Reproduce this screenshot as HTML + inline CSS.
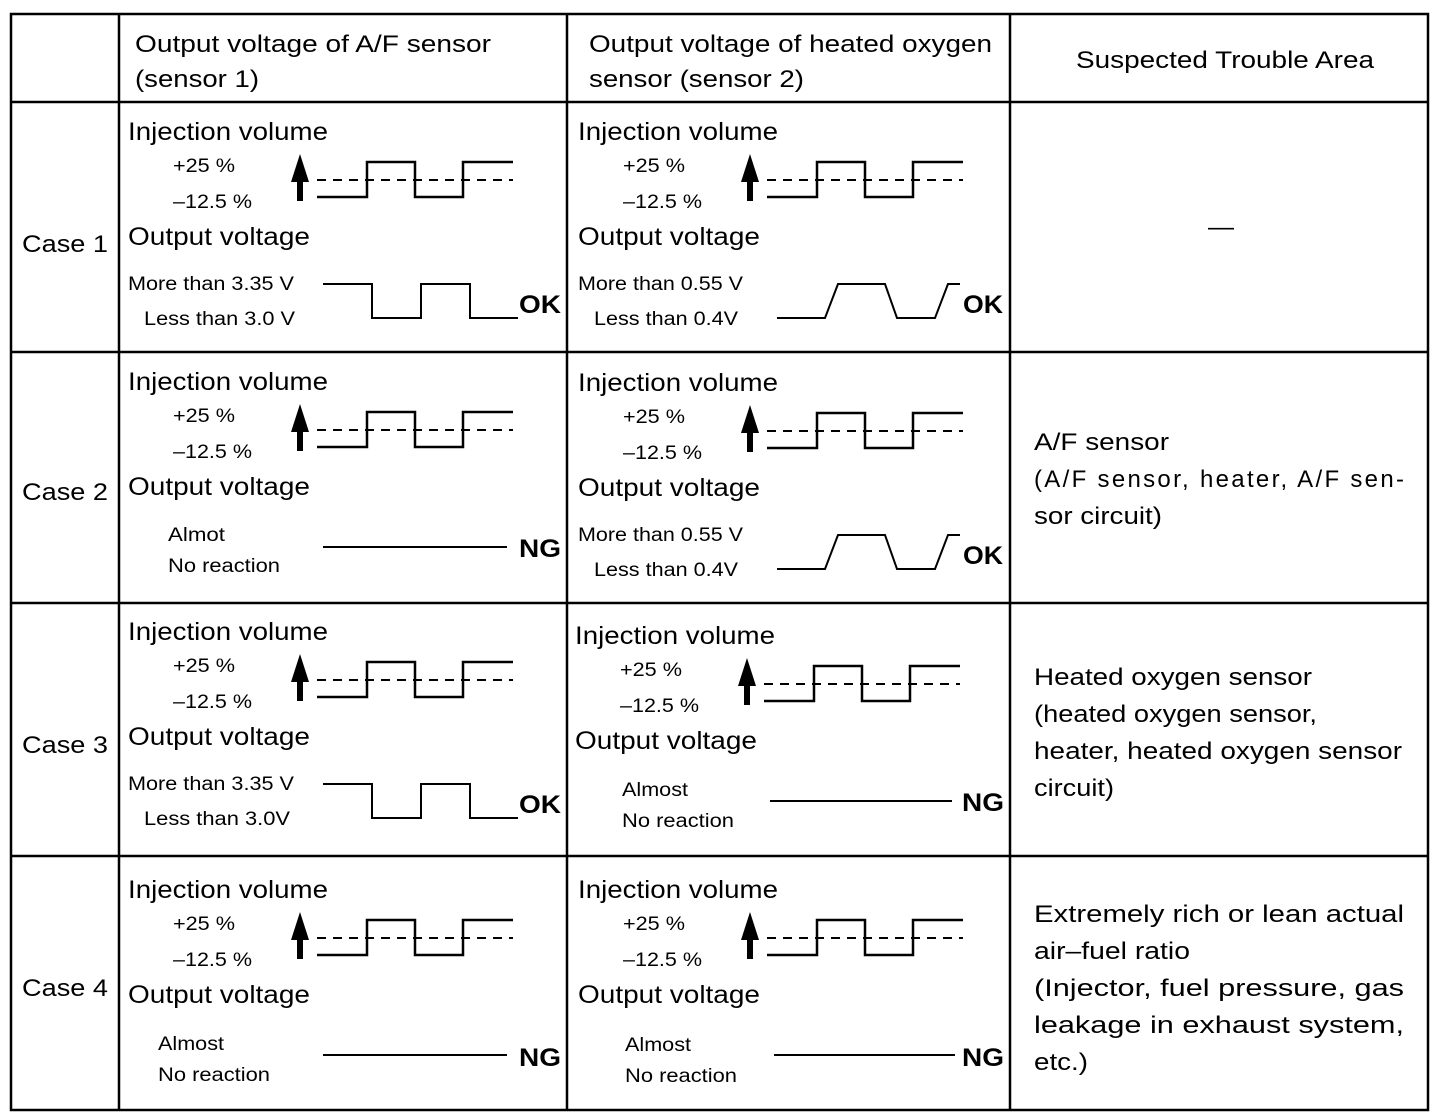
<!DOCTYPE html>
<html><head><meta charset="utf-8"><style>
html,body{margin:0;padding:0;background:#fff;}
.w{position:relative;width:1456px;height:1120px;overflow:hidden;}
svg{position:absolute;left:0;top:0;}
</style></head><body><div class="w">
<svg width="1456" height="1120" viewBox="0 0 1456 1120" font-family="Liberation Sans, Arial, sans-serif" fill="#000">
<defs>
<g id="inj">
<text x="128" y="140" font-size="25" textLength="200" lengthAdjust="spacingAndGlyphs">Injection volume</text>
<text x="173" y="172" font-size="19" textLength="62" lengthAdjust="spacingAndGlyphs">+25 %</text>
<text x="173" y="208" font-size="19" textLength="79" lengthAdjust="spacingAndGlyphs">–12.5 %</text>
<polygon points="300,154 291,182 309,182"/>
<rect x="297" y="180" width="6" height="21"/>
<line x1="317" y1="180" x2="513" y2="180" stroke="#000" stroke-width="2" stroke-dasharray="9,7"/>
<path d="M317,197 H367 V162 H415 V197 H463 V162 H513" fill="none" stroke="#000" stroke-width="2.5"/>
<text x="128" y="245" font-size="25" textLength="182" lengthAdjust="spacingAndGlyphs">Output voltage</text>
</g>
<g id="okAF">
<text x="128" y="290" font-size="19" textLength="166" lengthAdjust="spacingAndGlyphs">More than 3.35 V</text>
<path d="M323,284 H372 V318 H421 V284 H470 V318 H518" fill="none" stroke="#000" stroke-width="2"/>
<text x="519" y="313" font-size="25" font-weight="bold" textLength="42" lengthAdjust="spacingAndGlyphs">OK</text>
</g>
<g id="okO2">
<text x="578" y="290" font-size="19" textLength="165" lengthAdjust="spacingAndGlyphs">More than 0.55 V</text>
<text x="594" y="325" font-size="19" textLength="144" lengthAdjust="spacingAndGlyphs">Less than 0.4V</text>
<path d="M777,318 H825 L838,284 H885 L897,318 H935 L948,284 H960" fill="none" stroke="#000" stroke-width="2"/>
<text x="963" y="313" font-size="25" font-weight="bold" textLength="40" lengthAdjust="spacingAndGlyphs">OK</text>
</g>
</defs>
<g stroke="#000" stroke-width="2.5" fill="none">
<rect x="11" y="14" width="1417" height="1096"/>
<line x1="119" y1="14" x2="119" y2="1110"/>
<line x1="567" y1="14" x2="567" y2="1110"/>
<line x1="1010" y1="14" x2="1010" y2="1110"/>
<line x1="11" y1="102" x2="1428" y2="102"/>
<line x1="11" y1="352" x2="1428" y2="352"/>
<line x1="11" y1="603" x2="1428" y2="603"/>
<line x1="11" y1="856" x2="1428" y2="856"/>
</g>
<g font-size="24" lengthAdjust="spacingAndGlyphs">
<text x="135" y="52" textLength="356" lengthAdjust="spacingAndGlyphs">Output voltage of A/F sensor</text>
<text x="135" y="87" textLength="124" lengthAdjust="spacingAndGlyphs">(sensor 1)</text>
<text x="589" y="52" textLength="403" lengthAdjust="spacingAndGlyphs">Output voltage of heated oxygen</text>
<text x="589" y="87" textLength="215" lengthAdjust="spacingAndGlyphs">sensor (sensor 2)</text>
<text x="1076" y="68" textLength="298" lengthAdjust="spacingAndGlyphs">Suspected Trouble Area</text>
<text x="22" y="252" textLength="86" lengthAdjust="spacingAndGlyphs">Case 1</text>
<text x="22" y="500" textLength="86" lengthAdjust="spacingAndGlyphs">Case 2</text>
<text x="22" y="753" textLength="86" lengthAdjust="spacingAndGlyphs">Case 3</text>
<text x="22" y="996" textLength="86" lengthAdjust="spacingAndGlyphs">Case 4</text>
<text x="1208" y="235" textLength="26" lengthAdjust="spacingAndGlyphs">—</text>
<!-- right column -->
<text x="1034" y="450" textLength="135" lengthAdjust="spacingAndGlyphs">A/F sensor</text>
<text x="1034" y="487" textLength="370" lengthAdjust="spacing">(A/F  sensor,  heater,  A/F  sen-</text>
<text x="1034" y="524" textLength="128" lengthAdjust="spacingAndGlyphs">sor circuit)</text>
<text x="1034" y="685" textLength="278" lengthAdjust="spacingAndGlyphs">Heated oxygen sensor</text>
<text x="1034" y="722" textLength="283" lengthAdjust="spacingAndGlyphs">(heated oxygen sensor,</text>
<text x="1034" y="759" textLength="368" lengthAdjust="spacingAndGlyphs">heater, heated oxygen sensor</text>
<text x="1034" y="796" textLength="80" lengthAdjust="spacingAndGlyphs">circuit)</text>
<text x="1034" y="922" textLength="370" lengthAdjust="spacingAndGlyphs">Extremely rich or lean actual</text>
<text x="1034" y="959" textLength="156" lengthAdjust="spacingAndGlyphs">air–fuel ratio</text>
<text x="1034" y="996" textLength="370" lengthAdjust="spacingAndGlyphs">(Injector, fuel pressure, gas</text>
<text x="1034" y="1033" textLength="370" lengthAdjust="spacingAndGlyphs">leakage in exhaust system,</text>
<text x="1034" y="1070" textLength="54" lengthAdjust="spacingAndGlyphs">etc.)</text>
</g>
<!-- row1 -->
<use href="#inj"/>
<use href="#okAF"/>
<text x="144" y="325" font-size="19" textLength="151" lengthAdjust="spacingAndGlyphs">Less than 3.0 V</text>
<use href="#inj" transform="translate(450,0)"/>
<use href="#okO2"/>
<!-- row2 -->
<use href="#inj" transform="translate(0,250)"/>
<text x="168" y="541" font-size="19" textLength="57" lengthAdjust="spacingAndGlyphs">Almot</text>
<text x="168" y="572" font-size="19" textLength="112" lengthAdjust="spacingAndGlyphs">No reaction</text>
<line x1="323" y1="547" x2="507" y2="547" stroke="#000" stroke-width="2"/>
<text x="519" y="557" font-size="25" font-weight="bold" textLength="42" lengthAdjust="spacingAndGlyphs">NG</text>
<use href="#inj" transform="translate(450,251)"/>
<use href="#okO2" transform="translate(0,251)"/>
<!-- row3 -->
<use href="#inj" transform="translate(0,500)"/>
<use href="#okAF" transform="translate(0,500)"/>
<text x="144" y="825" font-size="19" textLength="146" lengthAdjust="spacingAndGlyphs">Less than 3.0V</text>
<use href="#inj" transform="translate(447,504)"/>
<text x="622" y="796" font-size="19" textLength="66" lengthAdjust="spacingAndGlyphs">Almost</text>
<text x="622" y="827" font-size="19" textLength="112" lengthAdjust="spacingAndGlyphs">No reaction</text>
<line x1="770" y1="801" x2="952" y2="801" stroke="#000" stroke-width="2"/>
<text x="962" y="811" font-size="25" font-weight="bold" textLength="42" lengthAdjust="spacingAndGlyphs">NG</text>
<!-- row4 -->
<use href="#inj" transform="translate(0,758)"/>
<text x="158" y="1050" font-size="19" textLength="66" lengthAdjust="spacingAndGlyphs">Almost</text>
<text x="158" y="1081" font-size="19" textLength="112" lengthAdjust="spacingAndGlyphs">No reaction</text>
<line x1="323" y1="1055" x2="507" y2="1055" stroke="#000" stroke-width="2"/>
<text x="519" y="1066" font-size="25" font-weight="bold" textLength="42" lengthAdjust="spacingAndGlyphs">NG</text>
<use href="#inj" transform="translate(450,758)"/>
<text x="625" y="1051" font-size="19" textLength="66" lengthAdjust="spacingAndGlyphs">Almost</text>
<text x="625" y="1082" font-size="19" textLength="112" lengthAdjust="spacingAndGlyphs">No reaction</text>
<line x1="774" y1="1055" x2="955" y2="1055" stroke="#000" stroke-width="2"/>
<text x="962" y="1066" font-size="25" font-weight="bold" textLength="42" lengthAdjust="spacingAndGlyphs">NG</text>
</svg>
</div></body></html>
